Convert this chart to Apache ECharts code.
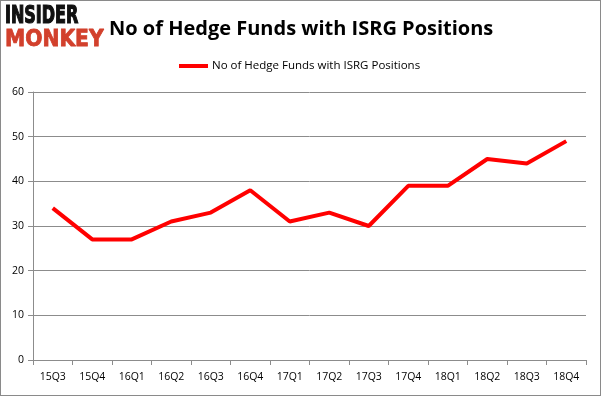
<!DOCTYPE html>
<html>
<head>
<meta charset="utf-8">
<script src="https://cdn.jsdelivr.net/npm/echarts@6/dist/echarts.min.js"></script>
<style>
  html, body { margin: 0; padding: 0; background: #fff; }
  #chart { width: 601px; height: 396px; box-sizing: border-box; border: 1px solid #8a8a8a; }
</style>
</head>
<body>
<div id="chart"></div>
<script>
const quarters = ['15Q3', '15Q4', '16Q1', '16Q2', '16Q3', '16Q4', '17Q1', '17Q2', '17Q3', '17Q4', '18Q1', '18Q2', '18Q3', '18Q4']
const hedgeFunds = [34, 27, 27, 31, 33, 38, 31, 33, 30, 39, 39, 45, 44, 49]
const seriesName = 'No of Hedge Funds with ISRG Positions'

const chart = echarts.init(document.getElementById('chart'))

const gridLine = { lineStyle: { color: '#8c8c8c', width: 1 } }

chart.setOption({
  animation: false,
  title: {
    text: 'No of Hedge Funds with ISRG Positions',
    left: 103,
    top: 13,
    textStyle: {
      fontFamily: 'Open Sans',
      fontWeight: 'bold',
      fontSize: 20,
      color: '#000'
    }
  },
  // logo
  graphic: [
    {
      type: 'text',
      x: 4,
      y: 4,
      scaleX: 0.74,
      style: {
        text: 'INSIDER',
        font: 'bold 24px "DejaVu Sans Condensed"',
        fill: '#111',
        stroke: '#111',
        lineWidth: 1.2,
        verticalAlign: 'top'
      }
    },
    {
      type: 'text',
      x: 4,
      y: 28,
      scaleX: 0.98,
      style: {
        text: 'MONKEY',
        font: 'bold 23px "DejaVu Sans Condensed"',
        fill: '#d2402c',
        stroke: '#d2402c',
        lineWidth: 0.8,
        verticalAlign: 'top'
      }
    }
  ],
  legend: {
    top: 54,
    left: 173,
    itemWidth: 29,
    itemHeight: 4,
    itemGap: 4,
    icon: 'rect',
    textStyle: {
      fontFamily: 'Open Sans',
      fontSize: 11.5,
      color: '#000',
      padding: [0, 0, 0, -1]
    },
    data: [seriesName]
  },
  grid: {
    left: 32,
    right: 14,
    top: 91,
    bottom: 35
  },
  xAxis: {
    type: 'category',
    data: quarters,
    boundaryGap: true,
    axisLine: gridLine,
    axisTick: { show: true, length: 5, lineStyle: { color: '#8c8c8c' } },
    axisLabel: {
      fontFamily: 'Open Sans',
      fontSize: 10.5,
      color: '#000',
      margin: 12
    }
  },
  yAxis: {
    type: 'value',
    min: 0,
    max: 60,
    interval: 10,
    axisLine: { show: true, ...gridLine },
    axisTick: { show: true, length: 5, lineStyle: { color: '#8c8c8c' } },
    splitLine: gridLine,
    axisLabel: {
      fontFamily: 'Open Sans',
      fontSize: 10.5,
      color: '#000',
      margin: 9
    }
  },
  series: [{
    name: seriesName,
    type: 'line',
    data: hedgeFunds,
    symbol: 'none',
    lineStyle: { color: '#ff0000', width: 4 },
    itemStyle: { color: '#ff0000' }
  }]
})
</script>
</body>
</html>
